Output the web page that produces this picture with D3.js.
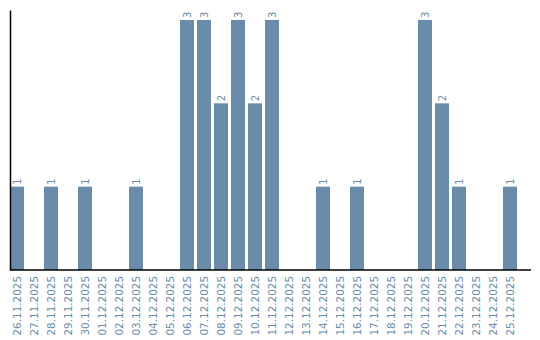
<!DOCTYPE html>
<meta charset="utf-8">
<style>
    body { margin: 0; background: #fff; }
    text { font-family: "DejaVu Sans", sans-serif; fill: #6a8caa; }
</style>
<svg width="540" height="340"></svg>
<script src="https://d3js.org/d3.v7.min.js"></script>
<script>
var dates = ["26.11.2025","27.11.2025","28.11.2025","29.11.2025","30.11.2025",
    "01.12.2025","02.12.2025","03.12.2025","04.12.2025","05.12.2025",
    "06.12.2025","07.12.2025","08.12.2025","09.12.2025","10.12.2025",
    "11.12.2025","12.12.2025","13.12.2025","14.12.2025","15.12.2025",
    "16.12.2025","17.12.2025","18.12.2025","19.12.2025","20.12.2025",
    "21.12.2025","22.12.2025","23.12.2025","24.12.2025","25.12.2025"];
var counts = [1,0,1,0,1, 0,0,1,0,0, 3,3,2,3,2, 3,0,0,1,0, 1,0,0,0,3, 2,1,0,0,1];

var svg = d3.select("svg");
var barColor = "#6a8caa";

var x = d3.scaleBand()
    .domain(dates)
    .range([10, 517])
    .paddingInner(3 / 17)
    .paddingOuter(0)
    .align(0);

var y = d3.scaleLinear()
    .domain([0, 3.12])
    .range([270, 10]);

var data = dates.map(function(d, i) { return {date: d, value: counts[i]}; });
var nonZero = data.filter(function(d) { return d.value > 0; });

// bars
svg.append("g")
    .selectAll("rect")
    .data(nonZero)
    .enter()
    .append("rect")
    .attr("x", function(d) { return x(d.date); })
    .attr("y", function(d) { return y(d.value); })
    .attr("width", x.bandwidth())
    .attr("height", function(d) { return y(0) - y(d.value); })
    .attr("fill", barColor);

// value labels (rotated)
svg.append("g")
    .selectAll("text")
    .data(nonZero)
    .enter()
    .append("text")
    .attr("transform", function(d) {
        return "translate(" + (x(d.date) + x.bandwidth() / 2 + 3.5) + "," + (y(d.value) - 2) + ") rotate(-90)";
    })
    .attr("font-size", 10)
    .text(function(d) { return d.value; });

// x axis
var xAxis = svg.append("g")
    .attr("transform", "translate(0,270)")
    .call(d3.axisBottom(x).tickSize(0).tickPadding(0));
xAxis.select(".domain")
    .attr("d", "M10,0H531")
    .attr("stroke", "#000")
    .attr("stroke-width", 1.5);
xAxis.selectAll(".tick text")
    .attr("font-size", 10.4)
    .attr("font-family", "DejaVu Sans, sans-serif")
    .attr("fill", barColor)
    .attr("text-anchor", "end")
    .attr("dy", null)
    .attr("y", 0)
    .attr("transform", "translate(3.5,6) rotate(-90)");

// y axis line only
var yAxis = svg.append("g")
    .attr("transform", "translate(10,0)")
    .call(d3.axisLeft(y).tickValues([]).tickSizeOuter(0));
yAxis.select(".domain")
    .attr("stroke", "#000")
    .attr("stroke-width", 1.5);
</script>
